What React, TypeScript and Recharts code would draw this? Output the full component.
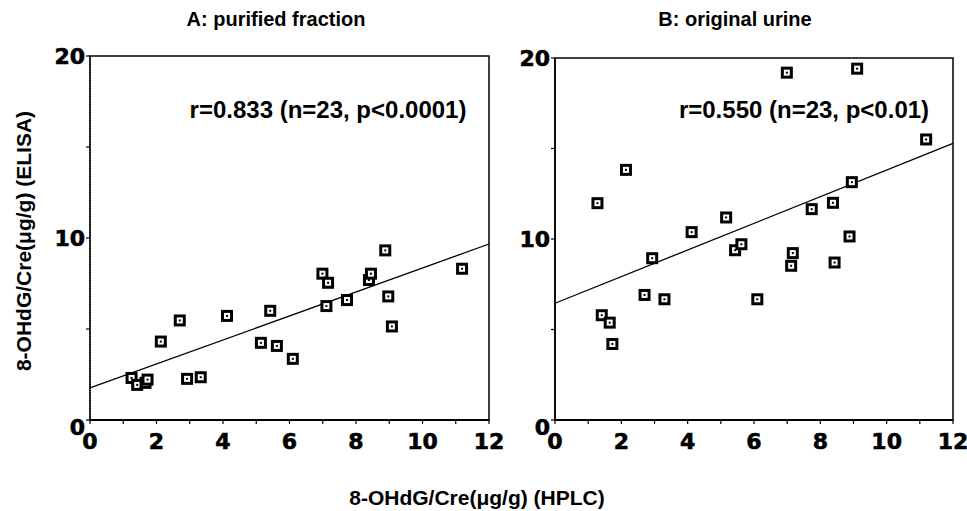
import { ScatterChart, Scatter, XAxis, YAxis, ReferenceLine, ReferenceArea } from "recharts";

// tick values
const xTicks = [0, 1, 2, 3, 4, 5, 6, 7, 8, 9, 10, 11, 12];
const xLabels = [0, 2, 4, 6, 8, 10, 12];
const yTicks = [0, 5, 10, 15, 20];
const yLabels = [0, 10, 20];

// A: purified fraction (HPLC vs ELISA)
const hplcA = [1.25, 1.42, 1.67, 1.73, 2.13, 2.7, 2.92, 3.33, 4.12, 5.14, 5.42, 5.62, 6.1, 6.99, 7.16, 7.11, 7.73, 8.39, 8.45, 8.88, 8.97, 9.08, 11.19];
const elisaA = [2.31, 1.93, 2.04, 2.22, 4.31, 5.47, 2.26, 2.35, 5.72, 4.24, 6.0, 4.07, 3.36, 8.04, 7.54, 6.26, 6.59, 7.69, 8.04, 9.32, 6.79, 5.14, 8.31];
const fitAx = [0, 12];
const fitAy = [1.76, 9.67];

// B: original urine
const hplcB = [1.28, 1.41, 1.65, 1.73, 2.14, 2.7, 2.93, 3.3, 4.12, 5.16, 5.43, 5.62, 6.1, 6.99, 7.12, 7.17, 7.74, 8.38, 8.43, 8.88, 8.95, 9.11, 11.19];
const elisaB = [11.98, 5.79, 5.38, 4.2, 13.82, 6.91, 8.94, 6.67, 10.38, 11.19, 9.38, 9.71, 6.67, 19.19, 8.52, 9.22, 11.65, 12.0, 8.7, 10.14, 13.14, 19.41, 15.5];
const fitBx = [0, 12];
const fitBy = [6.45, 15.28];

const toPts = (xs: number[], ys: number[]) => xs.map((x, i) => ({ x, y: ys[i] }));

const tickFont = "'DejaVu Sans', sans-serif";
const textFont = "'Liberation Sans', Arial, sans-serif";

const XTick = (props: any) => {
  const { x, y, payload } = props;
  if (!xLabels.includes(payload.value)) return null;
  return (
    <text x={x} y={y + 7} dy="0.71em" textAnchor="middle" fontFamily={tickFont} fontWeight="bold" fontSize={22} fill="#000" stroke="#000" strokeWidth={0.6}>
      {payload.value}
    </text>
  );
};

const YTick = (props: any) => {
  const { x, y, payload } = props;
  if (!yLabels.includes(payload.value)) return null;
  const shift = payload.value === 0 ? 7 : 0;
  return (
    <text x={x + 1} y={y + shift} dy="0.36em" textAnchor="end" fontFamily={tickFont} fontWeight="bold" fontSize={22} fill="#000" stroke="#000" strokeWidth={0.6}>
      {payload.value}
    </text>
  );
};

const Square = (props: any) => {
  const { cx, cy } = props;
  if (cx == null || cy == null) return null;
  return (
    <g>
      <rect x={cx - 6} y={cy - 6} width={12} height={12} fill="#000" />
      <rect x={cx - 3} y={cy - 3} width={6} height={6} fill="#fff" />
      <rect x={cx - 1} y={cy - 1} width={2} height={2} fill="#000" />
    </g>
  );
};

const Panel = ({ xs, ys, fx, fy, width, margin, dotted }: any) => (
  <ScatterChart width={width} height={470} margin={margin}>
    <XAxis
      type="number"
      dataKey="x"
      domain={[0, 12]}
      ticks={xTicks}
      interval={0}
      height={30}
      tickSize={4}
      tick={<XTick />}
      axisLine={{ stroke: "#000", strokeWidth: 2 }}
      tickLine={{ stroke: "#000", strokeWidth: 1.2 }}
    />
    <YAxis
      type="number"
      dataKey="y"
      domain={[0, 20]}
      ticks={yTicks}
      interval={0}
      width={60}
      tickSize={4}
      tick={<YTick />}
      axisLine={{ stroke: "#000", strokeWidth: 1.5, strokeDasharray: dotted ? "1 1" : undefined }}
      tickLine={{ stroke: "#000", strokeWidth: 1.2 }}
    />
    <ReferenceArea x1={0} x2={12} y1={0} y2={20} fill="none" fillOpacity={0} stroke="#000" strokeWidth={1.5} />
    <ReferenceLine
      segment={[
        { x: fx[0], y: fy[0] },
        { x: fx[1], y: fy[1] },
      ]}
      stroke="#000"
      strokeWidth={1.3}
    />
    <Scatter data={toPts(xs, ys)} shape={(p: any) => <Square {...p} />} isAnimationActive={false} />
  </ScatterChart>
);

const label = (text: string, left: number, top: number, size: number, extra: any = {}) => (
  <div
    style={{
      position: "absolute",
      left,
      top,
      fontSize: size,
      fontWeight: "bold",
      fontFamily: textFont,
      whiteSpace: "nowrap",
      lineHeight: 1,
      transform: "translate(-50%, -50%)",
      ...extra,
    }}
  >
    {text}
  </div>
);

export default function App() {
  return (
    <div style={{ position: "absolute", left: 0, top: 0, width: 967, height: 511, background: "#fff", color: "#000" }}>
      <div style={{ position: "absolute", left: 0, top: 0 }}>
        <Panel xs={hplcA} ys={elisaA} fx={fitAx} fy={fitAy} width={515} margin={{ top: 56, right: 26, bottom: 20, left: 30 }} dotted />
      </div>
      <div style={{ position: "absolute", left: 470, top: 0 }}>
        <Panel xs={hplcB} ys={elisaB} fx={fitBx} fy={fitBy} width={497} margin={{ top: 58, right: 14, bottom: 20, left: 25 }} />
      </div>
      {label("A: purified fraction", 276, 19, 20)}
      {label("B: original urine", 735, 19, 20)}
      {label("r=0.833 (n=23, p<0.0001)", 328, 110, 24)}
      {label("r=0.550 (n=23, p<0.01)", 804, 110, 24)}
      {label("8-OHdG/Cre(\u03bcg/g) (HPLC)", 477, 497, 21)}
      {label("8-OHdG/Cre(\u03bcg/g) (ELISA)", 23, 241, 21, { transform: "translate(-50%, -50%) rotate(-90deg)" })}
    </div>
  );
}
